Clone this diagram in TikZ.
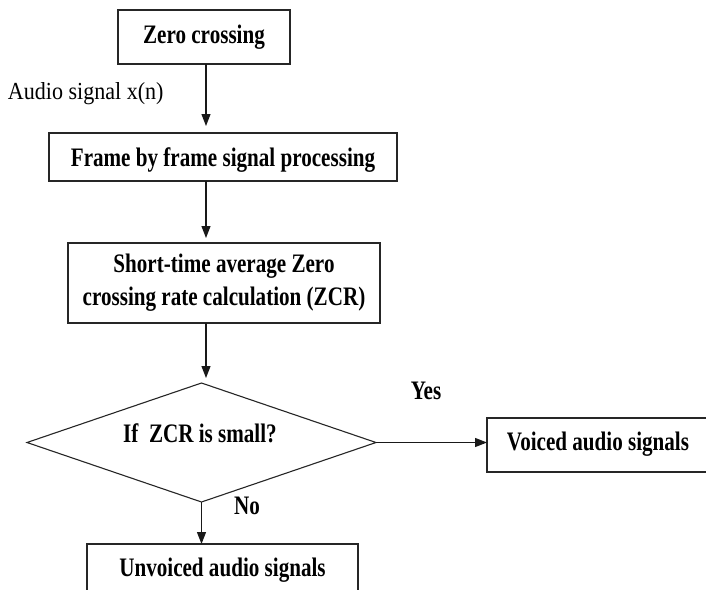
\documentclass[tikz,border=0pt]{standalone}
\usepackage{fontspec}
\setmainfont{Liberation Serif}[FakeStretch=0.79]
\newfontfamily\lblfont{Liberation Serif}[FakeStretch=0.9]
\usetikzlibrary{arrows.meta,shapes.geometric}
\begin{document}
\begin{tikzpicture}[x=1pt,y=-1pt,
  every node/.style={inner sep=0pt, outer sep=0pt},
  boxtxt/.style={font=\fontsize{26.7}{32}\selectfont\bfseries},
  stepbox/.style={draw=black!85, line width=1.3pt, boxtxt, align=center,
     text depth=6pt},
  decision/.style={diamond, draw=black!85, line width=1.1pt},
  plainlbl/.style={font=\lblfont\fontsize{24.5}{28}\selectfont},
  arr/.style={draw=black!90, line width=1.2pt, -{Triangle[length=12pt,width=9pt]}}]
\useasboundingbox (0,0) rectangle (706,589);
\clip (0,0) rectangle (706,589);
\fill[white] (0,0) rectangle (706,589);
% boxes
\node[stepbox, minimum width=172pt, minimum height=54pt, text height=19pt] (b1) at (204,37) {Zero crossing};
\node[stepbox, minimum width=348pt, minimum height=48pt, text height=24pt] (b2) at (223,157) {Frame by frame signal processing};
\node[stepbox, minimum width=312pt, minimum height=80pt, text height=, text depth=] (b3) at (224,283)
  {Short-time average Zero\\[1pt]crossing rate calculation (ZCR)};
\node[decision, minimum width=349pt, minimum height=119pt] (d) at (201.5,442.5) {};
\node[boxtxt, anchor=base] (dt) at (200,442) {If\ \ ZCR is small?};
\node[stepbox, minimum width=222pt, minimum height=54pt, text height=16pt] (v) at (598,445) {Voiced audio signals};
\node[stepbox, minimum width=271pt, minimum height=48pt, text height=22pt] (u) at (222.5,568) {Unvoiced audio signals};
% labels
\node[plainlbl, anchor=base west] (sig) at (8,99) {Audio signal x(n)};
\node[boxtxt, anchor=base] (yes) at (426,399) {Yes};
\node[boxtxt, anchor=base] (no) at (247,514) {No};
% connectors
\coordinate (ax) at (206,0);
\draw[arr] (b1.south -| ax) -- ([yshift=7pt]b2.north -| ax);
\draw[arr] (b2.south -| ax) -- ([yshift=5pt]b3.north -| ax);
\draw[arr] (b3.south -| ax) -- ([yshift=5pt]d.north -| ax);
\draw[arr] (d.south) -- (u.north -| d.south);
\draw[arr] (d.east) -- (v.west |- d.east);
\end{tikzpicture}
\end{document}
